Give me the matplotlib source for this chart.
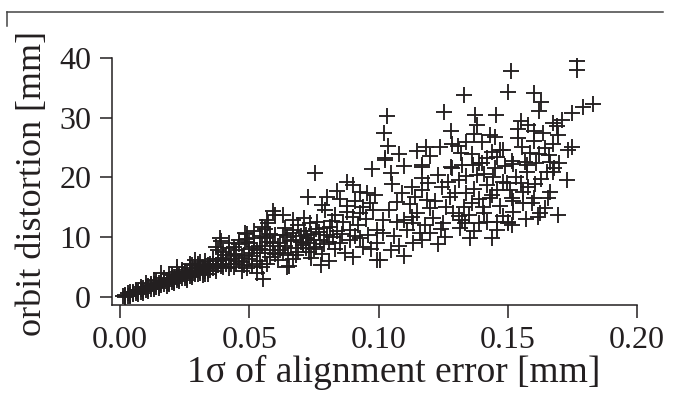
import matplotlib
matplotlib.use("Agg")
import matplotlib.pyplot as plt
from matplotlib.lines import Line2D

# ---- data ----
x_band = [0.001,0.002,0.002,0.003,0.003,0.004,0.004,0.005,0.005,0.006,0.006,0.007,0.007,0.008,0.008,0.009,0.009,0.010,0.010,0.011,
          0.011,0.012,0.012,0.013,0.013,0.014,0.014,0.015,0.015,0.016,0.016,0.017,0.017,0.018,0.018,0.019,0.019,0.020,0.020,0.021,
          0.021,0.022,0.022,0.023,0.023,0.024,0.024,0.025,0.025,0.026,0.026,0.027,0.027,0.028,0.028,0.029,0.029,0.030,0.030,0.031,
          0.031,0.032,0.032,0.033,0.033,0.034,0.034,0.035,0.035,0.036,
          0.028,0.030,0.032,0.026,0.033,0.031,0.024,0.022,0.036,0.037,0.038,0.037,0.039,0.040,0.041,0.042,0.040,0.016,0.022,0.019,
          0.013,0.010,0.029,0.027,0.034,
          0.002,0.004,0.005,0.006,0.007,0.008,0.009,0.011,0.012,0.013,0.014,0.015,0.016,0.017,0.018,0.019,0.020,0.021,0.022,0.023,
          0.024,0.025,0.026,0.027,0.028,0.029,0.030,0.031,0.032,0.033,0.034,0.035,0.036,0.037,0.038,0.039,0.040,0.041,0.043,0.044]
y_band = [0.1,0.4,0.0,0.6,0.2,0.4,0.8,0.5,0.9,1.0,0.6,0.8,1.2,0.9,1.3,1.0,1.5,1.1,1.6,1.3,
          1.8,1.4,1.9,1.6,2.1,1.7,2.2,1.8,2.4,2.0,2.6,2.1,2.7,2.3,2.9,2.4,3.0,2.5,3.2,2.7,
          3.3,2.8,3.5,3.0,3.6,3.1,3.8,3.2,4.0,3.4,4.1,3.5,4.3,3.7,4.4,3.8,4.6,3.9,4.8,4.0,
          4.9,4.2,5.1,4.3,5.2,4.4,5.4,4.6,5.6,4.8,
          5.3,5.6,3.6,2.9,6.0,5.8,4.5,4.1,6.3,5.4,6.0,4.4,5.2,6.6,5.6,4.9,7.6,4.0,5.0,3.8,
          2.8,2.3,6.2,5.6,3.8,
          0.2,0.2,0.7,1.2,0.5,1.6,0.7,1.0,2.2,1.3,2.6,1.5,2.3,3.1,1.9,2.1,3.6,2.3,3.1,2.6,
          4.2,3.6,3.1,4.8,3.3,4.1,5.2,4.4,4.6,3.9,5.0,5.1,5.6,4.9,5.4,6.4,5.0,6.2,5.6,6.8]

x_low = [0.0387,0.038,0.037,0.039,0.0484,0.0484,0.052,0.053,0.0553,0.047,0.053,0.058,0.0592,0.0573,0.055,0.057,0.060,0.043,0.045,0.044,
         0.046,0.048,0.050,0.050,0.051,0.049,0.042,0.046,0.054,0.055,0.056,0.057,0.058,0.059,0.060,0.061,0.061,0.054,0.052,0.044,
         0.041,0.047,0.049,0.051,0.058,0.056,
         0.045,0.047,0.048,0.050,0.051,0.053,0.054,0.055,0.057,0.059,0.060,0.062,0.063,0.064,0.066,0.067,0.068,0.070,0.072,0.073,
         0.075,0.076,0.077,0.079,0.042,0.044,0.046,0.049,0.052,0.056]
y_low = [9.9,7.9,8.4,9.4,10.7,9.2,8.4,4.0,3.0,4.4,7.9,6.7,14.4,12.4,11.7,12.9,13.8,6.4,5.5,7.2,
         6.0,7.0,6.4,8.0,5.2,9.7,8.2,8.8,6.0,8.6,7.3,5.5,9.2,7.8,10.4,6.2,8.6,10.2,9.8,5.0,
         7.0,5.8,4.9,7.4,10.6,9.8,
         7.8,6.6,5.4,9.0,6.8,5.6,8.0,5.0,10.0,9.0,7.2,7.8,10.4,8.6,9.4,11.2,7.0,9.2,10.4,7.6,
         9.6,8.4,10.8,11.6,9.0,8.4,9.6,10.6,11.0,11.4]

x_mid = [0.0646,0.0654,0.0778,0.063,0.0646,0.0669,0.0708,0.0708,0.0723,0.0774,0.0824,0.089,0.094,0.0994,0.1017,0.090,0.0994,0.0669,0.063,0.0735,
         0.0762,0.0793,0.083,0.0878,0.090,0.0928,0.0812,0.0863,0.089,0.0994,0.0727,0.080,0.0851,0.0928,0.0955,0.0986,0.0967,0.0878,0.090,0.0754,
         0.0975,0.1025,
         0.066,0.068,0.069,0.070,0.071,0.072,0.073,0.074,0.075,0.076,0.078,0.079,0.080,0.081,0.082,0.083,0.084,0.085,0.086,0.087,
         0.088,0.091,0.092,0.093,0.095,0.096,0.097,0.098,0.062,0.064,0.067,0.071,0.078,0.084,0.091,0.094,0.065,0.069,0.074,0.081]
y_mid = [5.0,5.2,5.4,7.4,10.0,10.7,8.7,9.0,9.9,9.5,10.0,9.5,8.4,9.0,10.7,6.7,6.2,12.9,13.7,12.4,
         12.6,14.6,13.7,14.2,13.4,14.1,11.7,12.6,11.2,11.2,16.7,16.7,16.4,17.6,17.4,17.1,15.7,19.2,18.7,20.8,
         21.4,22.9,
         8.2,9.6,7.6,10.2,11.0,8.2,9.0,10.6,8.0,11.4,7.2,8.8,10.4,9.2,12.8,8.0,11.0,9.0,10.5,7.4,
         15.2,10.2,12.0,9.8,13.0,10.4,8.0,14.6,9.0,11.6,6.4,13.2,15.4,17.8,16.0,15.0,7.0,12.0,6.6,6.0]

x_high = [0.1033,0.102,0.1037,0.1025,0.117,0.1184,0.1238,0.1253,0.128,0.1284,0.128,0.1052,0.109,0.107,0.113,0.117,0.1168,0.117,0.1188,0.120,
          0.123,0.1246,0.1284,0.1277,0.1296,0.1017,0.107,0.110,0.113,0.1133,0.116,0.1133,0.117,0.120,0.1257,0.125,0.1288,0.1006,
          0.104,0.106,0.108,0.111,0.112,0.114,0.115,0.118,0.119,0.121,0.122,0.124,0.126,0.127,0.105,0.110,0.120,0.115,0.108,0.123,
          0.105,0.110]
y_high = [30.3,27.4,25.3,23.3,22.1,25.1,25.1,31.0,27.8,25.6,21.8,18.9,17.4,15.9,18.4,21.8,19.9,17.9,16.2,14.9,
          20.4,18.4,21.6,16.7,17.4,12.9,12.6,12.9,13.4,12.4,10.7,9.0,9.5,10.7,10.0,12.4,14.1,6.2,
          14.6,10.2,8.6,11.2,15.6,16.8,14.0,12.0,19.0,13.2,16.0,11.4,15.0,19.2,20.8,22.0,23.6,24.4,24.0,8.8,
          7.8,6.8]

x_upper = [0.133,0.1373,0.1455,0.138,0.137,0.134,0.1308,0.132,0.143,0.145,0.144,0.147,0.146,0.1366,0.140,0.1323,0.134,0.136,0.138,0.139,
           0.142,0.1443,0.146,0.143,0.1404,0.1497,0.1323,0.1335,0.1315,0.1354,0.139,0.142,0.1439,0.146,0.1458,0.150,0.148,0.148,
           0.131,0.133,0.135,0.137,0.139,0.141,0.141,0.144,0.145,0.147,0.149,0.136,0.140,0.142,0.131,0.148,0.137,0.134]
y_upper = [33.8,30.5,30.5,28.8,27.3,26.0,25.3,24.1,27.1,26.8,24.3,24.6,23.4,22.1,22.4,22.1,17.4,15.7,20.4,22.4,
           18.7,20.1,17.9,16.6,15.1,19.1,12.9,12.4,11.5,9.9,12.4,12.6,9.9,12.6,11.2,12.4,24.6,19.2,
           19.6,15.0,13.8,18.0,16.4,20.6,14.0,17.0,21.6,15.2,22.0,24.0,26.0,23.2,13.6,13.6,11.0,20.2]

x_top = [0.1768,0.1768,0.1513,0.150,0.160,0.163,0.162,0.175,0.179,0.183,0.155,0.154,0.160,0.1675,0.169,0.1694,0.1636,0.160,0.1675,0.175,
         0.1733,0.1555,0.1586,0.1644,0.1516,0.1567,0.161,0.1663,0.152,0.1574,0.1574,0.168,0.1675,0.1605,0.151,0.156,0.1663,0.1516,0.160,0.1656,
         0.156,0.1594,0.1644,0.152,0.1625,0.1617,0.1694,0.150,0.1516,0.173,
         0.153,0.155,0.158,0.163,0.165,0.154,0.158,0.162,0.166,0.170,0.171,0.152,0.157]
y_top = [39.5,38.0,37.8,34.3,34.1,32.6,31.1,30.8,31.8,32.3,29.5,28.1,27.8,29.1,28.6,27.1,27.4,26.1,25.6,25.1,
         24.6,25.1,24.1,24.9,22.8,22.6,22.4,22.6,22.3,22.1,20.9,21.6,20.9,18.9,17.9,17.6,17.6,16.6,16.6,16.6,
         15.7,15.7,14.9,14.2,14.1,13.4,13.7,12.6,12.0,19.6,
         20.0,19.0,18.4,19.8,21.0,26.6,28.8,24.0,23.8,22.4,29.6,16.0,13.0]

x_ticks = [0.00, 0.05, 0.10, 0.15, 0.20]
x_ticklabels = ["0.00", "0.05", "0.10", "0.15", "0.20"]
y_ticks = [0, 10, 20, 30, 40]

alignment_error = x_band + x_low + x_mid + x_high + x_upper + x_top
orbit_distortion = y_band + y_low + y_mid + y_high + y_upper + y_top

# ---- style ----
INK = "#231f20"
plt.rcParams["font.family"] = ["Liberation Serif", "DejaVu Serif"]

W, H = 678, 394
fig = plt.figure(figsize=(W / 100, H / 100), dpi=100)
ax = fig.add_axes([112 / W, (H - 305) / H, (637 - 112) / W, (305 - 58) / H])

ax.plot(alignment_error, orbit_distortion, linestyle="none", marker="+",
        markersize=11, markeredgewidth=1.35, color=INK)

ax.set_xlim(-0.0031, 0.20)
ax.set_ylim(-1.34, 40)
ax.set_xticks(x_ticks)
ax.set_xticklabels(x_ticklabels)
ax.set_yticks(y_ticks)

for s in ["top", "right"]:
    ax.spines[s].set_visible(False)
for s in ["left", "bottom"]:
    ax.spines[s].set_color(INK)
    ax.spines[s].set_linewidth(1.1)

ax.tick_params(axis="both", direction="out", length=9, width=1.1, color=INK,
               labelcolor=INK, labelsize=23)
ax.tick_params(axis="x", pad=6)
ax.tick_params(axis="y", pad=6)

ax.set_xlabel("1σ of alignment error [mm]", fontsize=27, color=INK, labelpad=1)
ax.set_ylabel("orbit distortion [mm]", fontsize=26, color=INK, labelpad=7)
ax.xaxis.set_label_coords(0.537, -0.20, transform=ax.transAxes)
ax.xaxis.label.set_verticalalignment("top")
ax.yaxis.label.set_y(0.49)

# cropped frame line at the top
fig.add_artist(Line2D([7 / W, 663 / W], [(H - 12) / H, (H - 12) / H], color="#444444", lw=1.1))
fig.add_artist(Line2D([7 / W, 7 / W], [(H - 12) / H, (H - 26) / H], color="#444444", lw=1.1))

fig.savefig("out.png", dpi=100)
